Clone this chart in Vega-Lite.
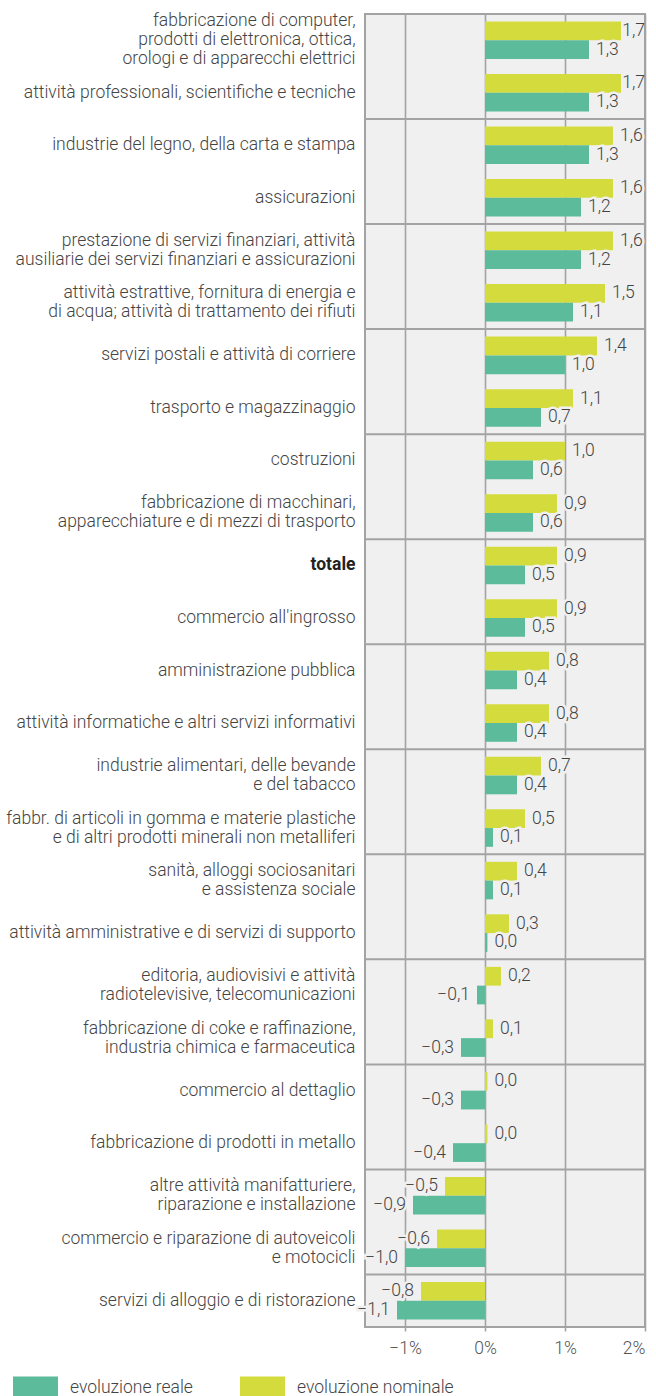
{
  "$schema": "https://vega.github.io/schema/vega-lite/v6.json",
  "autosize": "none",
  "width": 280,
  "height": 1313,
  "padding": {"left": 365, "top": 14, "right": 11, "bottom": 69},
  "background": "white",
  "config": {
    "locale": {"number": {"decimal": ",", "thousands": ".", "grouping": [3], "currency": ["", " €"], "minus": "−"}},
    "view": {"fill": "#f0f0f0", "stroke": "#a3a3a3", "strokeWidth": 2},
    "font": "Roboto",
    "axis": {"labelFont": "Roboto", "labelFontWeight": 300, "labelColor": "#444444", "labelFontSize": 17.5}
  },
  "data": {
    "values": [
      {"cat": "fabbricazione di computer,|prodotti di elettronica, ottica,|orologi e di apparecchi elettrici", "nominale": 1.7, "reale": 1.3},
      {"cat": "attività professionali, scientifiche e tecniche", "nominale": 1.7, "reale": 1.3},
      {"cat": "industrie del legno, della carta e stampa", "nominale": 1.6, "reale": 1.3},
      {"cat": "assicurazioni", "nominale": 1.6, "reale": 1.2},
      {"cat": "prestazione di servizi finanziari, attività|ausiliarie dei servizi finanziari e assicurazioni", "nominale": 1.6, "reale": 1.2},
      {"cat": "attività estrattive, fornitura di energia e|di acqua; attività di trattamento dei rifiuti", "nominale": 1.5, "reale": 1.1},
      {"cat": "servizi postali e attività di corriere", "nominale": 1.4, "reale": 1.0},
      {"cat": "trasporto e magazzinaggio", "nominale": 1.1, "reale": 0.7},
      {"cat": "costruzioni", "nominale": 1.0, "reale": 0.6},
      {"cat": "fabbricazione di macchinari,|apparecchiature e di mezzi di trasporto", "nominale": 0.9, "reale": 0.6},
      {"cat": "totale", "nominale": 0.9, "reale": 0.5},
      {"cat": "commercio all'ingrosso", "nominale": 0.9, "reale": 0.5},
      {"cat": "amministrazione pubblica", "nominale": 0.8, "reale": 0.4},
      {"cat": "attività informatiche e altri servizi informativi", "nominale": 0.8, "reale": 0.4},
      {"cat": "industrie alimentari, delle bevande|e del tabacco", "nominale": 0.7, "reale": 0.4},
      {"cat": "fabbr. di articoli in gomma e materie plastiche|e di altri prodotti minerali non metalliferi", "nominale": 0.5, "reale": 0.1},
      {"cat": "sanità, alloggi sociosanitari|e assistenza sociale", "nominale": 0.4, "reale": 0.1},
      {"cat": "attività amministrative e di servizi di supporto", "nominale": 0.3, "reale": 0.03},
      {"cat": "editoria, audiovisivi e attività|radiotelevisive, telecomunicazioni", "nominale": 0.2, "reale": -0.1},
      {"cat": "fabbricazione di coke e raffinazione,|industria chimica e farmaceutica", "nominale": 0.1, "reale": -0.3},
      {"cat": "commercio al dettaglio", "nominale": 0.03, "reale": -0.3},
      {"cat": "fabbricazione di prodotti in metallo", "nominale": 0.03, "reale": -0.4},
      {"cat": "altre attività manifatturiere,|riparazione e installazione", "nominale": -0.5, "reale": -0.9},
      {"cat": "commercio e riparazione di autoveicoli|e motocicli", "nominale": -0.6, "reale": -1.0},
      {"cat": "servizi di alloggio e di ristorazione", "nominale": -0.8, "reale": -1.1}
    ]
  },
  "encoding": {
    "y": {
      "field": "cat", "type": "nominal", "sort": null, "title": null,
      "scale": {
        "paddingInner": 0, "paddingOuter": 0,
        "domain": [
          "fabbricazione di computer,|prodotti di elettronica, ottica,|orologi e di apparecchi elettrici",
          "attività professionali, scientifiche e tecniche",
          "industrie del legno, della carta e stampa",
          "assicurazioni",
          "prestazione di servizi finanziari, attività|ausiliarie dei servizi finanziari e assicurazioni",
          "attività estrattive, fornitura di energia e|di acqua; attività di trattamento dei rifiuti",
          "servizi postali e attività di corriere",
          "trasporto e magazzinaggio",
          "costruzioni",
          "fabbricazione di macchinari,|apparecchiature e di mezzi di trasporto",
          "totale",
          "commercio all'ingrosso",
          "amministrazione pubblica",
          "attività informatiche e altri servizi informativi",
          "industrie alimentari, delle bevande|e del tabacco",
          "fabbr. di articoli in gomma e materie plastiche|e di altri prodotti minerali non metalliferi",
          "sanità, alloggi sociosanitari|e assistenza sociale",
          "attività amministrative e di servizi di supporto",
          "editoria, audiovisivi e attività|radiotelevisive, telecomunicazioni",
          "fabbricazione di coke e raffinazione,|industria chimica e farmaceutica",
          "commercio al dettaglio",
          "fabbricazione di prodotti in metallo",
          "altre attività manifatturiere,|riparazione e installazione",
          "commercio e riparazione di autoveicoli|e motocicli",
          "servizi di alloggio e di ristorazione"
        ]
      },
      "axis": {
        "ticks": false, "domain": false, "grid": false, "labelPadding": 10, "labelLimit": 400,
        "labelFontSize": 17.5,
        "labelLineHeight": 19, "labelExpr": "split(datum.label, '|')",
        "labelOffset": {"condition": [
          {"test": "length(split(datum.label, '|')) == 3", "value": -19},
          {"test": "length(split(datum.label, '|')) == 2", "value": -9.5}
        ], "value": 0},
        "labelFontWeight": {"condition": {"test": "datum.label == 'totale'", "value": "bold"}, "value": 300},
        "labelColor": {"condition": {"test": "datum.label == 'totale'", "value": "#222222"}, "value": "#444444"}
      }
    }
  },
  "layer": [
    {
      "transform": [
        {"window": [{"op": "row_number", "as": "rn"}]},
        {"filter": "datum.rn % 2 == 1 && datum.rn > 1"}
      ],
      "mark": {"type": "rule", "color": "#a3a3a3", "strokeWidth": 2},
      "encoding": {"y": {"field": "cat", "type": "nominal", "sort": null, "bandPosition": 0}}
    },
    {
      "transform": [{"fold": ["nominale", "reale"], "as": ["serie", "valore"]}],
      "mark": {"type": "bar"},
      "encoding": {
        "x": {
          "field": "valore", "type": "quantitative", "title": null,
          "scale": {"domain": [-1.5, 2], "nice": false, "zero": false},
          "axis": {
            "values": [-1, 0, 1, 2], "domain": false, "tickSize": 4, "tickColor": "#a3a3a3", "tickWidth": 1.6,
            "gridColor": "#a3a3a3", "gridWidth": 1.6, "gridOpacity": 1, "labelPadding": 8, "labelColor": "#555555",
            "labelExpr": "replace(format(datum.value, '.0f'), '-', '−') + '%'"
          }
        },
        "yOffset": {"field": "serie", "type": "nominal", "sort": ["nominale", "reale"], "scale": {"paddingOuter": 0.4, "paddingInner": 0}},
        "color": {
          "field": "serie", "type": "nominal",
          "scale": {"domain": ["reale", "nominale"], "range": ["#5bbb9a", "#d4db3c"]},
          "legend": {
            "orient": "none", "direction": "horizontal", "legendX": -352, "legendY": 1351, "title": null,
            "symbolType": "M-1,-0.5L1,-0.5L1,0.5L-1,0.5Z", "symbolSize": 2025, "symbolStrokeWidth": 0,
            "labelFont": "Roboto", "labelFontWeight": 300, "labelFontSize": 17.5, "labelColor": "#444444",
            "labelOffset": 12, "columnPadding": 47,
            "labelExpr": "datum.label == 'reale' ? 'evoluzione reale' : 'evoluzione nominale'"
          }
        }
      }
    },
    {
      "transform": [
        {"fold": ["nominale", "reale"], "as": ["serie", "valore"]},
        {"filter": "datum.valore >= 0 && datum.valore < 1.65"},
        {"calculate": "replace(replace(format(datum.valore, '.1f'), '.', ','), '-', '−')", "as": "lab"}
      ],
      "mark": {"type": "text", "align": "left", "baseline": "middle", "dx": 7, "font": "Roboto", "fontWeight": 300, "fontSize": 17.5, "fill": "#f0f0f0", "stroke": "#f0f0f0", "strokeWidth": 5},
      "encoding": {
        "x": {"field": "valore", "type": "quantitative"},
        "yOffset": {"field": "serie", "type": "nominal", "sort": ["nominale", "reale"]},
        "text": {"field": "lab"}
      }
    },
    {
      "transform": [
        {"fold": ["nominale", "reale"], "as": ["serie", "valore"]},
        {"filter": "datum.valore < 0"},
        {"calculate": "replace(replace(format(datum.valore, '.1f'), '.', ','), '-', '−')", "as": "lab"}
      ],
      "mark": {"type": "text", "align": "right", "baseline": "middle", "dx": -7, "font": "Roboto", "fontWeight": 300, "fontSize": 17.5, "fill": "#f0f0f0", "stroke": "#f0f0f0", "strokeWidth": 5},
      "encoding": {
        "x": {"field": "valore", "type": "quantitative"},
        "yOffset": {"field": "serie", "type": "nominal", "sort": ["nominale", "reale"]},
        "text": {"field": "lab"}
      }
    },
    {
      "transform": [
        {"fold": ["nominale", "reale"], "as": ["serie", "valore"]},
        {"filter": "datum.valore >= 0 && datum.valore < 1.65"},
        {"calculate": "replace(replace(format(datum.valore, '.1f'), '.', ','), '-', '−')", "as": "lab"}
      ],
      "mark": {"type": "text", "align": "left", "baseline": "middle", "dx": 7, "font": "Roboto", "fontWeight": 300, "fontSize": 17.5, "color": "#444444"},
      "encoding": {
        "x": {"field": "valore", "type": "quantitative"},
        "yOffset": {"field": "serie", "type": "nominal", "sort": ["nominale", "reale"]},
        "text": {"field": "lab"}
      }
    },
    {
      "transform": [
        {"fold": ["nominale", "reale"], "as": ["serie", "valore"]},
        {"filter": "datum.valore < 0"},
        {"calculate": "replace(replace(format(datum.valore, '.1f'), '.', ','), '-', '−')", "as": "lab"}
      ],
      "mark": {"type": "text", "align": "right", "baseline": "middle", "dx": -7, "font": "Roboto", "fontWeight": 300, "fontSize": 17.5, "color": "#444444"},
      "encoding": {
        "x": {"field": "valore", "type": "quantitative"},
        "yOffset": {"field": "serie", "type": "nominal", "sort": ["nominale", "reale"]},
        "text": {"field": "lab"}
      }
    },
    {
      "transform": [
        {"fold": ["nominale", "reale"], "as": ["serie", "valore"]},
        {"filter": "datum.valore >= 1.65"},
        {"calculate": "replace(format(datum.valore, '.1f'), '.', ',')", "as": "lab"}
      ],
      "mark": {"type": "text", "align": "right", "baseline": "middle", "dx": 0, "font": "Roboto", "fontWeight": 300, "fontSize": 17.5, "color": "#444444"},
      "encoding": {
        "x": {"datum": 2},
        "yOffset": {"field": "serie", "type": "nominal", "sort": ["nominale", "reale"]},
        "text": {"field": "lab"}
      }
    }
  ]
}
